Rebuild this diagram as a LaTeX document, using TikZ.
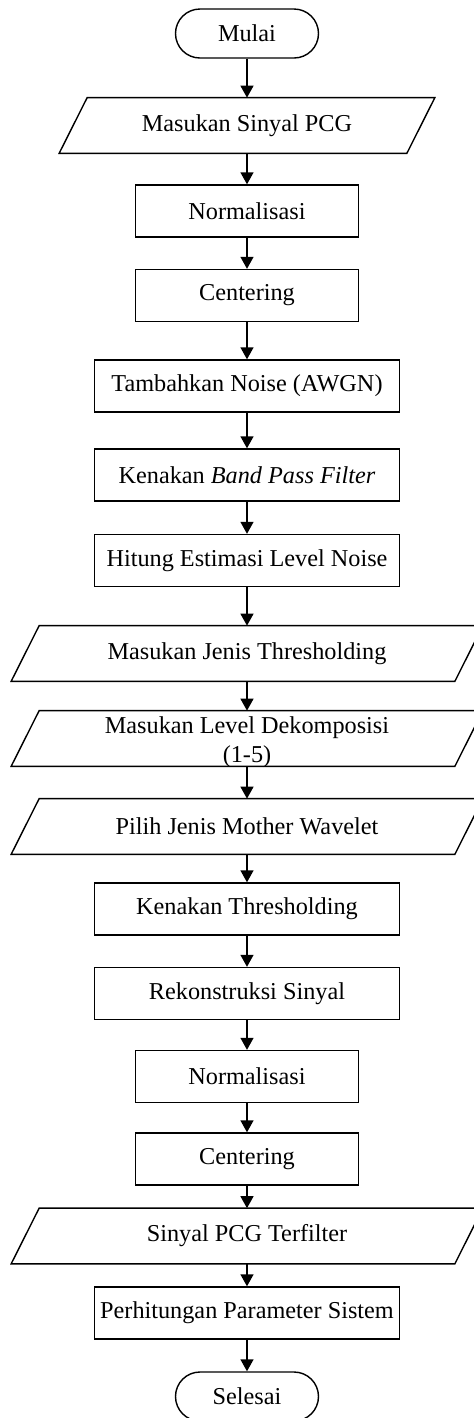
\documentclass[tikz,border=0pt]{standalone}
\usepackage{fontspec}
\setmainfont{Liberation Serif}
\usepackage{tikz}
\usetikzlibrary{shapes.geometric, arrows.meta, positioning}
\newcommand{\chartfont}{\fontsize{13.8}{16.5}\selectfont}

\begin{document}
\begin{tikzpicture}[
        terminal/.style={draw, thick, rectangle, rounded corners=0.49cm, minimum width=2.86cm, minimum height=0.98cm, font=\chartfont},
        process/.style={draw, thick, minimum width=4.46cm, minimum height=1.04cm, font=\chartfont},
        wideprocess/.style={process, minimum width=6.1cm},
        % slanted data box, drawn round the node's own rectangle
        io/.style={minimum width=6.94cm, minimum height=1.1cm, inner ysep=0pt, align=center, font=\chartfont,
            append after command={\pgfextra{\draw[thick] ([xshift=2.8mm]\tikzlastnode.north west) -- ([xshift=2.8mm]\tikzlastnode.north east) -- ([xshift=-2.8mm]\tikzlastnode.south east) -- ([xshift=-2.8mm]\tikzlastnode.south west) -- cycle;}}},
        wideio/.style={io, minimum width=8.86cm},
        arrow/.style={->, thick, >={Triangle[width=2.6mm, length=2.4mm]}}
    ]
        \useasboundingbox (-4.94,0) rectangle (4.52,-28.36);

        \node[terminal] (start) at (0,-0.67) {Mulai};
        \node[io] (input) at (0,-2.51) {Masukan Sinyal PCG};
        \node[process] (norm1) at (0,-4.22) {Normalisasi};
        \node[process] (center1) at (0,-5.91) {Centering};
        \node[wideprocess] (noise) at (0,-7.72) {Tambahkan Noise (AWGN)};
        \node[wideprocess] (bpf) at (0,-9.5) {Kenakan \textit{Band Pass Filter}};
        \node[wideprocess] (estimate) at (0,-11.21) {Hitung Estimasi Level Noise};
        \node[wideio] (thrtype) at (0,-13.07) {Masukan Jenis Thresholding};
        % two lines, the second one sits on the bottom edge
        \node[wideio, text height=0.94cm, text depth=0pt] (level) at (0,-14.77) {Masukan Level Dekomposisi\\(1-5)};
        \node[wideio] (wavelet) at (0,-16.53) {Pilih Jenis Mother Wavelet};
        \node[wideprocess] (thresh) at (0,-18.18) {Kenakan Thresholding};
        \node[wideprocess] (recon) at (0,-19.87) {Rekonstruksi Sinyal};
        \node[process] (norm2) at (0,-21.53) {Normalisasi};
        \node[process] (center2) at (0,-23.18) {Centering};
        \node[wideio] (output) at (0,-24.72) {Sinyal PCG Terfilter};
        \node[wideprocess] (params) at (0,-26.26) {Perhitungan Parameter Sistem};
        \node[terminal] (stop) at (0,-27.93) {Selesai};

        \draw[arrow] (start) -- (input);
        \draw[arrow] (input) -- (norm1);
        \draw[arrow] (norm1) -- (center1);
        \draw[arrow] (center1) -- (noise);
        \draw[arrow] (noise) -- (bpf);
        \draw[arrow] (bpf) -- (estimate);
        \draw[arrow] (estimate) -- (thrtype);
        \draw[arrow] (thrtype) -- (level);
        \draw[arrow] (level) -- (wavelet);
        \draw[arrow] (wavelet) -- (thresh);
        \draw[arrow] (thresh) -- (recon);
        \draw[arrow] (recon) -- (norm2);
        \draw[arrow] (norm2) -- (center2);
        \draw[arrow] (center2) -- (output);
        \draw[arrow] (output) -- (params);
        \draw[arrow] (params) -- (stop);
    \end{tikzpicture}
\end{document}
